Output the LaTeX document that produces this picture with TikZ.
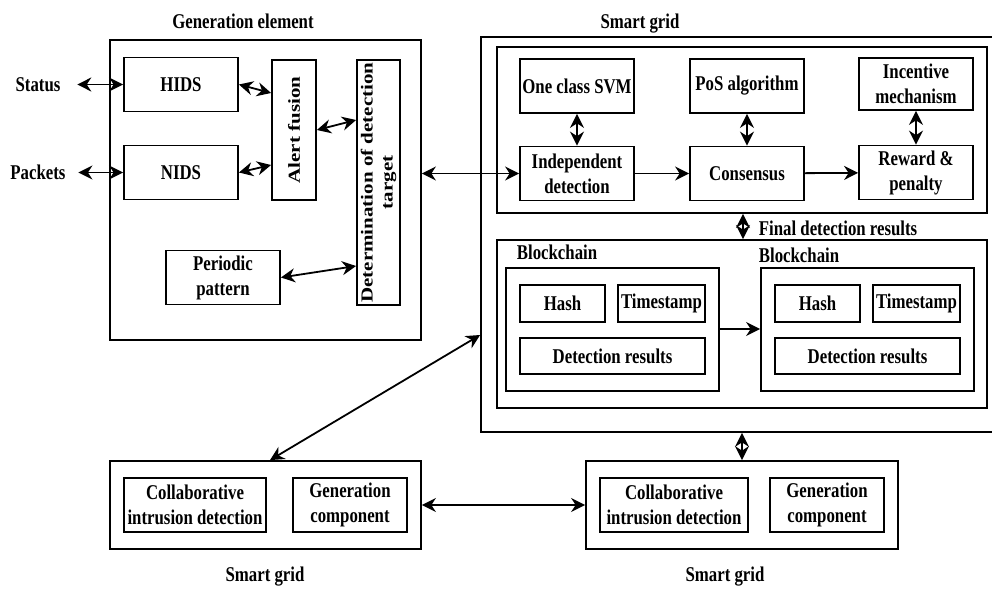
\documentclass[tikz,border=0pt]{standalone}
\usepackage{fontspec}
\setmainfont{Liberation Serif}[FakeStretch=0.8]
\newfontfamily\rotfont{Liberation Serif}
\usetikzlibrary{arrows.meta}

\tikzset{
  bx/.style={draw, line width=0.9pt, inner sep=1pt, align=center},
  sbox/.style={bx, minimum width=57pt, minimum height=27pt},
  lbl/.style={inner sep=1pt},
}

\begin{document}
\begin{tikzpicture}[x=0.5pt, y=-0.5pt, line width=0.9pt, font=\fontsize{10.5}{12.5}\selectfont\bfseries, >={Stealth[length=7pt,width=7pt]}]
    \useasboundingbox (0,0) rectangle (992,589);
    \clip (0,0) rectangle (992,589);

    % generation element
    \node[bx, minimum width=155.5pt, minimum height=150pt] (gen) at (265.5,190) {};
    \node[lbl] (gentitle) at (243,21) {Generation element};
    \node[sbox] (hids) at (181,84.5) {HIDS};
    \node[sbox] (nids) at (181,172.5) {NIDS};
    \node[bx, minimum width=22pt, minimum height=70pt] (alert) at (294,130) {\rotatebox{90}{\scalebox{1}[0.8]{\rotfont Alert fusion}}};
    \node[bx, minimum width=21.5pt, minimum height=122.5pt, inner sep=0pt] (det) at (378.5,182.5) {\rotatebox{90}{\scalebox{1}[0.8]{\rotfont\begin{tabular}{@{}c@{}}Determination of detection\\target\end{tabular}}}};
    \node[sbox] (periodic) at (223,277.5) {Periodic\\pattern};
    \node[lbl] (status) at (38,84.5) {Status};
    \node[lbl] (packets) at (38,172.5) {Packets};

    \draw[<->, shorten <=7pt] (status) -- (hids);
    \draw[<->, shorten <=5pt] (packets) -- (nids);
    \draw[<->] (hids.east) -- (alert.west |- 0,93);
    \draw[<->] (nids.east) -- (alert.west |- 0,165);
    \draw[<->] (alert.east) -- (det.west |- 0,120);
    \draw[<->] (periodic.east) -- (det.west |- 0,266);

    % smart grid with detection and blockchain
    \node[bx, minimum width=259.5pt, minimum height=197.5pt] (sg) at (740.5,234.5) {};
    \node[lbl] (sgtitle) at (640,24) {Smart grid};
    \node[bx, minimum width=245pt, minimum height=83pt] (detect) at (742,130) {};
    \node[sbox] (svm) at (577,86) {One class SVM};
    \node[sbox] (pos) at (747,86) {PoS algorithm};
    \node[sbox, minimum height=26pt] (incentive) at (916,84) {Incentive\\mechanism};
    \node[sbox] (indep) at (577,173.5) {Independent\\detection};
    \node[sbox] (consensus) at (747,173.5) {Consensus};
    \node[sbox] (reward) at (916,172.5) {Reward \&\\penalty};

    \draw[<->] (svm) -- (indep);
    \draw[<->] (pos) -- (consensus);
    \draw[<->] (incentive) -- (reward);
    \draw[->] (indep) -- (consensus);
    \draw[->] (consensus) -- (reward);
    \draw[<->] (indep.west -| gen.east) -- (indep.west);

    \node[bx, minimum width=245pt, minimum height=84pt] (chain) at (742,324) {};
    \node[lbl, anchor=west] (final) at (756,228) {Final detection results};
    \draw[<->] (detect.south -| 743,0) -- (chain.north -| 743,0);

    \node[lbl, anchor=west] (bc1) at (514,252) {Blockchain};
    \node[bx, minimum width=106.5pt, minimum height=61.5pt] (blk1) at (612.5,329.5) {};
    \node[bx, minimum width=42.5pt, minimum height=18.5pt] (hash1) at (562.5,303.5) {Hash};
    \node[bx, minimum width=43.5pt, minimum height=18.5pt] (ts1) at (661.5,303.5) {Timestamp};
    \node[bx, minimum width=92.5pt, minimum height=18pt] (dr1) at (612.5,356) {Detection results};

    \node[lbl, anchor=west] (bc2) at (756,255) {Blockchain};
    \node[bx, minimum width=106.5pt, minimum height=61.5pt] (blk2) at (867.5,329.5) {};
    \node[bx, minimum width=42.5pt, minimum height=18.5pt] (hash2) at (817.5,303.5) {Hash};
    \node[bx, minimum width=43.5pt, minimum height=18.5pt] (ts2) at (916.5,303.5) {Timestamp};
    \node[bx, minimum width=92.5pt, minimum height=18pt] (dr2) at (867.5,356) {Detection results};

    \draw[->] (blk1.east |- 0,329) -- (blk2.west |- 0,329);

    % smart grids at the bottom
    \node[bx, minimum width=155.5pt, minimum height=44pt] (sgl) at (265.5,505) {};
    \node[bx, minimum width=71pt, minimum height=27pt] (coll1) at (195,505) {Collaborative\\intrusion detection};
    \node[sbox] (genc1) at (350,505) {Generation\\component};
    \node[lbl] (sgltitle) at (265,577) {Smart grid};

    \node[bx, minimum width=156pt, minimum height=44pt] (sgr) at (742,505) {};
    \node[bx, minimum width=74pt, minimum height=27pt] (coll2) at (674,505) {Collaborative\\intrusion detection};
    \node[sbox] (genc2) at (827,505) {Generation\\component};
    \node[lbl] (sgrtitle) at (725,577) {Smart grid};

    \draw[<->] (sgl) -- (sgr);
    \draw[<->] (sgl.north -| 270,0) -- (sg.west |- 0,335);
    \draw[<->] (sg.south -| 742,0) -- (sgr.north -| 742,0);
\end{tikzpicture}
\end{document}
